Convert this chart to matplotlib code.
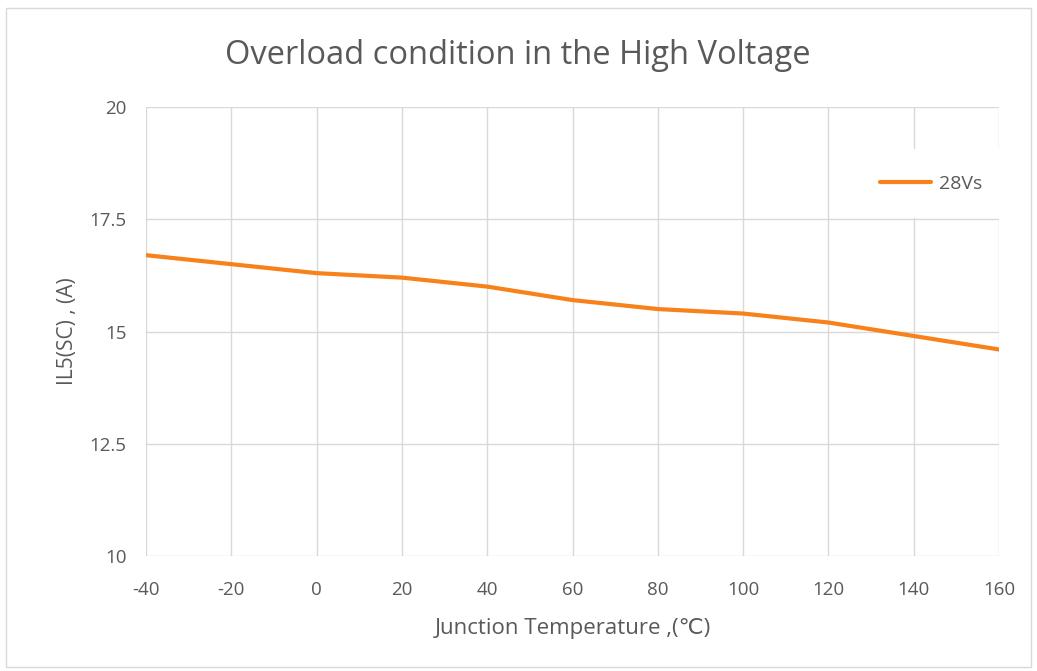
import matplotlib.pyplot as plt
from matplotlib.patches import Rectangle

temps = [-40, -20, 0, 20, 40, 60, 80, 100, 120, 140, 160]
current = [16.7, 16.5, 16.3, 16.2, 16.0, 15.7, 15.5, 15.4, 15.2, 14.9, 14.6]
xtick_labels = ["-40", "-20", "0", "20", "40", "60", "80", "100", "120", "140", "160"]
yticks = [10, 12.5, 15, 17.5, 20]
ytick_labels = ["10", "12.5", "15", "17.5", "20"]

plt.rcParams['font.family'] = ['Open Sans', 'DejaVu Sans']
txt = '#595959'

fig = plt.figure(figsize=(10.37, 6.71), dpi=100)
fig.patches.append(Rectangle((0.006, 0.006), 0.988, 0.982, transform=fig.transFigure,
                             fill=False, edgecolor='#D9D9D9', linewidth=1))
ax = fig.add_axes([0.1408, 0.1714, 0.8226, 0.6691])

ax.plot(temps, current, color='#F7821B', linewidth=3, label='28Vs', solid_capstyle='round')

ax.set_xlim(-40, 160)
ax.set_ylim(10, 20)
ax.set_xticks(temps)
ax.set_xticklabels(xtick_labels)
ax.set_yticks(yticks)
ax.set_yticklabels(ytick_labels)
ax.grid(True, color='#D9D9D9', linewidth=1)
ax.set_axisbelow(True)
for s in ax.spines.values():
    s.set_visible(False)
ax.tick_params(length=0, labelsize=13.5, colors=txt)
ax.tick_params(axis='x', pad=18)
ax.tick_params(axis='y', pad=14)

# title is centred on the whole chart, not the plot area
ax.set_title("Overload condition in the High Voltage", fontsize=23.5, color=txt, pad=31, x=0.436)
ax.set_xlabel("Junction Temperature ,(℃)", fontsize=16, color=txt, labelpad=14)
ax.set_ylabel("IL5(SC) , (A)", fontsize=15, color=txt, labelpad=8)

leg = ax.legend(loc='upper right', bbox_to_anchor=(1.012, 0.91), frameon=True, fontsize=14,
                handlelength=2.6, handletextpad=0.4, borderpad=1.3, borderaxespad=0.1)
leg.get_frame().set_edgecolor('none')
leg.get_frame().set_facecolor('white')
leg.get_frame().set_alpha(1)
for t in leg.get_texts():
    t.set_color(txt)

fig.savefig('out.png', dpi=100)
